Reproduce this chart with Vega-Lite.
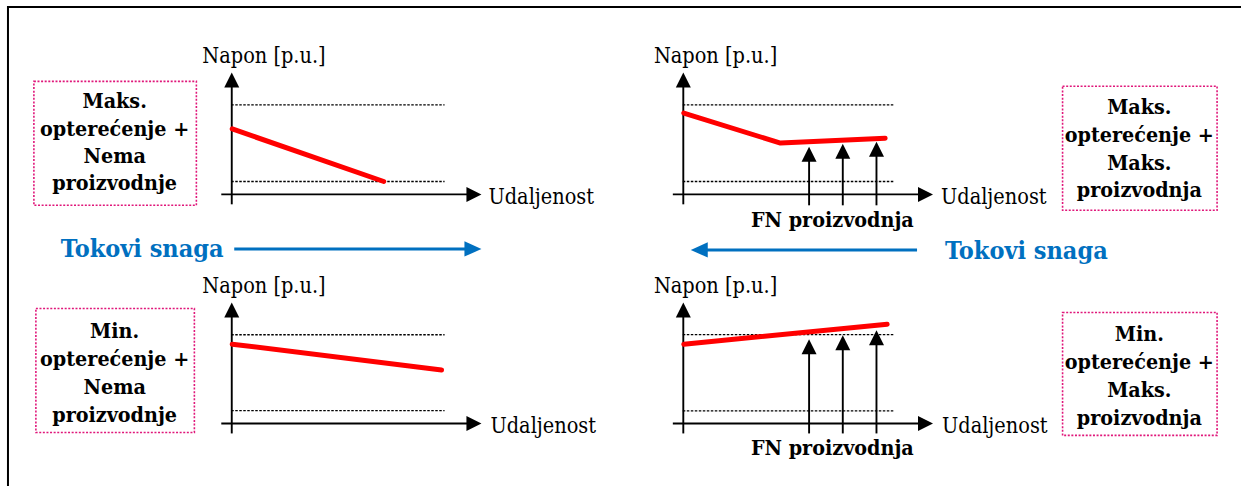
{
  "$schema": "https://vega.github.io/schema/vega-lite/v6.json",
  "width": 1245,
  "height": 490,
  "autosize": {"type": "fit", "contains": "padding"},
  "padding": 0,
  "background": "white",
  "config": {"view": {"stroke": null}},
  "resolve": {"scale": {"shape": "independent"}},
  "datasets": {
    "paths": [
      {"kind": "frame", "id": "frame", "o": 1, "x": 8, "y": 490},
      {"kind": "frame", "id": "frame", "o": 2, "x": 8, "y": 7},
      {"kind": "frame", "id": "frame", "o": 3, "x": 1245, "y": 7},

      {"kind": "axis", "id": "tl-y", "o": 1, "x": 232.5, "y": 206},
      {"kind": "axis", "id": "tl-y", "o": 2, "x": 232.5, "y": 86},
      {"kind": "axis", "id": "tl-x", "o": 1, "x": 222, "y": 196},
      {"kind": "axis", "id": "tl-x", "o": 2, "x": 470, "y": 196},
      {"kind": "axis", "id": "tr-y", "o": 1, "x": 685.5, "y": 206},
      {"kind": "axis", "id": "tr-y", "o": 2, "x": 685.5, "y": 86},
      {"kind": "axis", "id": "tr-x", "o": 1, "x": 675, "y": 196},
      {"kind": "axis", "id": "tr-x", "o": 2, "x": 923, "y": 196},
      {"kind": "axis", "id": "bl-y", "o": 1, "x": 232.5, "y": 437},
      {"kind": "axis", "id": "bl-y", "o": 2, "x": 232.5, "y": 318},
      {"kind": "axis", "id": "bl-x", "o": 1, "x": 222, "y": 427},
      {"kind": "axis", "id": "bl-x", "o": 2, "x": 470, "y": 427},
      {"kind": "axis", "id": "br-y", "o": 1, "x": 685.5, "y": 437},
      {"kind": "axis", "id": "br-y", "o": 2, "x": 685.5, "y": 318},
      {"kind": "axis", "id": "br-x", "o": 1, "x": 675, "y": 427},
      {"kind": "axis", "id": "br-x", "o": 2, "x": 923, "y": 427},

      {"kind": "axis", "id": "tr-f1", "o": 1, "x": 811.7, "y": 207},
      {"kind": "axis", "id": "tr-f1", "o": 2, "x": 811.7, "y": 158},
      {"kind": "axis", "id": "tr-f2", "o": 1, "x": 845.5, "y": 207},
      {"kind": "axis", "id": "tr-f2", "o": 2, "x": 845.5, "y": 155},
      {"kind": "axis", "id": "tr-f3", "o": 1, "x": 879.3, "y": 207},
      {"kind": "axis", "id": "tr-f3", "o": 2, "x": 879.3, "y": 153},
      {"kind": "axis", "id": "br-f1", "o": 1, "x": 811.7, "y": 437},
      {"kind": "axis", "id": "br-f1", "o": 2, "x": 811.7, "y": 352},
      {"kind": "axis", "id": "br-f2", "o": 1, "x": 845.5, "y": 437},
      {"kind": "axis", "id": "br-f2", "o": 2, "x": 845.5, "y": 348},
      {"kind": "axis", "id": "br-f3", "o": 1, "x": 879.3, "y": 437},
      {"kind": "axis", "id": "br-f3", "o": 2, "x": 879.3, "y": 343},

      {"kind": "grid", "id": "tl-u", "o": 1, "x": 232, "y": 105.7},
      {"kind": "grid", "id": "tl-u", "o": 2, "x": 446, "y": 105.7},
      {"kind": "grid", "id": "tl-l", "o": 1, "x": 232, "y": 183},
      {"kind": "grid", "id": "tl-l", "o": 2, "x": 446, "y": 183},
      {"kind": "grid", "id": "tr-u", "o": 1, "x": 685, "y": 105.7},
      {"kind": "grid", "id": "tr-u", "o": 2, "x": 897, "y": 105.7},
      {"kind": "grid", "id": "tr-l", "o": 1, "x": 685, "y": 183},
      {"kind": "grid", "id": "tr-l", "o": 2, "x": 897, "y": 183},
      {"kind": "grid", "id": "bl-u", "o": 1, "x": 232, "y": 337.5},
      {"kind": "grid", "id": "bl-u", "o": 2, "x": 446, "y": 337.5},
      {"kind": "grid", "id": "bl-l", "o": 1, "x": 232, "y": 414},
      {"kind": "grid", "id": "bl-l", "o": 2, "x": 446, "y": 414},
      {"kind": "grid", "id": "br-u", "o": 1, "x": 685, "y": 337.3},
      {"kind": "grid", "id": "br-u", "o": 2, "x": 897, "y": 337.3},
      {"kind": "grid", "id": "br-l", "o": 1, "x": 685, "y": 414.3},
      {"kind": "grid", "id": "br-l", "o": 2, "x": 897, "y": 414.3},

      {"kind": "volt", "id": "tl", "o": 1, "x": 233, "y": 130},
      {"kind": "volt", "id": "tl", "o": 2, "x": 385, "y": 183},
      {"kind": "volt", "id": "tr", "o": 1, "x": 686, "y": 114},
      {"kind": "volt", "id": "tr", "o": 2, "x": 783, "y": 144.3},
      {"kind": "volt", "id": "tr", "o": 3, "x": 888, "y": 139.3},
      {"kind": "volt", "id": "bl", "o": 1, "x": 233, "y": 347},
      {"kind": "volt", "id": "bl", "o": 2, "x": 443, "y": 373},
      {"kind": "volt", "id": "br", "o": 1, "x": 686, "y": 347},
      {"kind": "volt", "id": "br", "o": 2, "x": 890, "y": 327},

      {"kind": "flow", "id": "left", "o": 1, "x": 235, "y": 251},
      {"kind": "flow", "id": "left", "o": 2, "x": 470, "y": 251},
      {"kind": "flow", "id": "right", "o": 1, "x": 920, "y": 252},
      {"kind": "flow", "id": "right", "o": 2, "x": 706, "y": 252}
    ],
    "heads": [
      {"kind": "axis", "dir": "up", "x": 232.5, "y": 73},
      {"kind": "axis", "dir": "right", "x": 483, "y": 196},
      {"kind": "axis", "dir": "up", "x": 685.5, "y": 73},
      {"kind": "axis", "dir": "right", "x": 936, "y": 196},
      {"kind": "axis", "dir": "up", "x": 232.5, "y": 305},
      {"kind": "axis", "dir": "right", "x": 483, "y": 427},
      {"kind": "axis", "dir": "up", "x": 685.5, "y": 305},
      {"kind": "axis", "dir": "right", "x": 936, "y": 427},
      {"kind": "axis", "dir": "up", "x": 811.7, "y": 148},
      {"kind": "axis", "dir": "up", "x": 845.5, "y": 145},
      {"kind": "axis", "dir": "up", "x": 879.3, "y": 143},
      {"kind": "axis", "dir": "up", "x": 811.7, "y": 342},
      {"kind": "axis", "dir": "up", "x": 845.5, "y": 338},
      {"kind": "axis", "dir": "up", "x": 879.3, "y": 333},
      {"kind": "flow", "dir": "east", "x": 483, "y": 251},
      {"kind": "flow", "dir": "west", "x": 693, "y": 252}
    ],
    "boxes": [
      {"id": "tl", "x": 34, "x2": 197, "y": 82, "y2": 207},
      {"id": "tr", "x": 1066, "x2": 1221, "y": 87, "y2": 212},
      {"id": "bl", "x": 36, "x2": 195, "y": 311, "y2": 436},
      {"id": "br", "x": 1066, "x2": 1221, "y": 315, "y2": 439}
    ],
    "labels": [
      {"style": "axis", "text": "Napon [p.u.]", "x": 203, "y": 64},
      {"style": "axis", "text": "Napon [p.u.]", "x": 656, "y": 64},
      {"style": "axis", "text": "Napon [p.u.]", "x": 203, "y": 295},
      {"style": "axis", "text": "Napon [p.u.]", "x": 656, "y": 295},
      {"style": "axis", "text": "Udaljenost", "x": 490, "y": 206},
      {"style": "axis", "text": "Udaljenost", "x": 944, "y": 206},
      {"style": "axis", "text": "Udaljenost", "x": 492, "y": 437},
      {"style": "axis", "text": "Udaljenost", "x": 945, "y": 437},

      {"style": "bold", "text": "Maks.", "x": 115, "y": 109},
      {"style": "bold", "text": "opterećenje +", "x": 115, "y": 137},
      {"style": "bold", "text": "Nema", "x": 115, "y": 164},
      {"style": "bold", "text": "proizvodnje", "x": 115, "y": 192},
      {"style": "bold", "text": "Maks.", "x": 1143, "y": 115},
      {"style": "bold", "text": "opterećenje +", "x": 1143, "y": 143},
      {"style": "bold", "text": "Maks.", "x": 1143, "y": 171},
      {"style": "bold", "text": "proizvodnja", "x": 1143, "y": 199},
      {"style": "bold", "text": "Min.", "x": 115, "y": 341},
      {"style": "bold", "text": "opterećenje +", "x": 115, "y": 369},
      {"style": "bold", "text": "Nema", "x": 115, "y": 397},
      {"style": "bold", "text": "proizvodnje", "x": 115, "y": 425},
      {"style": "bold", "text": "Min.", "x": 1143, "y": 344},
      {"style": "bold", "text": "opterećenje +", "x": 1143, "y": 372},
      {"style": "bold", "text": "Maks.", "x": 1143, "y": 400},
      {"style": "bold", "text": "proizvodnja", "x": 1143, "y": 428},
      {"style": "bold", "text": "FN proizvodnja", "x": 835, "y": 229},
      {"style": "bold", "text": "FN proizvodnja", "x": 835, "y": 459},

      {"style": "flow", "text": "Tokovi snaga", "x": 61, "y": 259},
      {"style": "flow", "text": "Tokovi snaga", "x": 948, "y": 261}
    ]
  },
  "layer": [
    {
      "data": {"name": "boxes"},
      "mark": {"type": "rect", "fill": "white", "fillOpacity": 0, "stroke": "#E0177A", "strokeWidth": 1.6, "strokeDash": [2, 1.6]},
      "encoding": {
        "x": {"field": "x", "type": "quantitative", "scale": {"domain": [0, 1245], "nice": false, "zero": false}, "axis": null},
        "x2": {"field": "x2"},
        "y": {"field": "y", "type": "quantitative", "scale": {"domain": [0, 490], "reverse": true, "nice": false, "zero": false}, "axis": null},
        "y2": {"field": "y2"}
      }
    },
    {
      "data": {"name": "paths"},
      "transform": [{"filter": "datum.kind === 'frame'"}],
      "mark": {"type": "line", "stroke": "black", "strokeWidth": 2},
      "encoding": {
        "x": {"field": "x", "type": "quantitative", "axis": null},
        "y": {"field": "y", "type": "quantitative", "axis": null},
        "detail": {"field": "id"},
        "order": {"field": "o"}
      }
    },
    {
      "data": {"name": "paths"},
      "transform": [{"filter": "datum.kind === 'grid'"}],
      "mark": {"type": "line", "stroke": "black", "strokeWidth": 1.3, "strokeDash": [2.5, 1.5]},
      "encoding": {
        "x": {"field": "x", "type": "quantitative", "axis": null},
        "y": {"field": "y", "type": "quantitative", "axis": null},
        "detail": {"field": "id"},
        "order": {"field": "o"}
      }
    },
    {
      "data": {"name": "paths"},
      "transform": [{"filter": "datum.kind === 'axis'"}],
      "mark": {"type": "line", "stroke": "black", "strokeWidth": 1.9},
      "encoding": {
        "x": {"field": "x", "type": "quantitative", "axis": null},
        "y": {"field": "y", "type": "quantitative", "axis": null},
        "detail": {"field": "id"},
        "order": {"field": "o"}
      }
    },
    {
      "data": {"name": "paths"},
      "transform": [{"filter": "datum.kind === 'volt'"}],
      "mark": {"type": "line", "stroke": "#FF0000", "strokeWidth": 5, "strokeCap": "round", "strokeJoin": "round"},
      "encoding": {
        "x": {"field": "x", "type": "quantitative", "axis": null},
        "y": {"field": "y", "type": "quantitative", "axis": null},
        "detail": {"field": "id"},
        "order": {"field": "o"}
      }
    },
    {
      "data": {"name": "paths"},
      "transform": [{"filter": "datum.kind === 'flow'"}],
      "mark": {"type": "line", "stroke": "#0070C0", "strokeWidth": 3},
      "encoding": {
        "x": {"field": "x", "type": "quantitative", "axis": null},
        "y": {"field": "y", "type": "quantitative", "axis": null},
        "detail": {"field": "id"},
        "order": {"field": "o"}
      }
    },
    {
      "data": {"name": "heads"},
      "transform": [{"filter": "datum.kind === 'axis'"}],
      "mark": {"type": "point", "filled": true, "opacity": 1, "size": 900, "color": "black", "strokeWidth": 0},
      "encoding": {
        "x": {"field": "x", "type": "quantitative", "axis": null},
        "y": {"field": "y", "type": "quantitative", "axis": null},
        "shape": {"field": "dir", "type": "nominal", "legend": null,
          "scale": {"domain": ["up", "right"], "range": ["M0,0L-0.5,1L0.5,1Z", "M0,0L-1,-0.5L-1,0.5Z"]}}
      }
    },
    {
      "data": {"name": "heads"},
      "transform": [{"filter": "datum.kind === 'flow'"}],
      "mark": {"type": "point", "filled": true, "opacity": 1, "size": 1156, "color": "#0070C0", "strokeWidth": 0},
      "encoding": {
        "x": {"field": "x", "type": "quantitative", "axis": null},
        "y": {"field": "y", "type": "quantitative", "axis": null},
        "shape": {"field": "dir", "type": "nominal", "legend": null,
          "scale": {"domain": ["west", "east"], "range": ["M0,0L1,-0.45L1,0.45Z", "M0,0L-1,-0.45L-1,0.45Z"]}}
      }
    },
    {
      "data": {"name": "labels"},
      "transform": [{"filter": "datum.style === 'axis'"}],
      "mark": {"type": "text", "font": "DejaVu Serif Condensed, DejaVu Serif", "fontSize": 21.5, "fontWeight": "normal", "align": "left", "baseline": "alphabetic", "color": "black"},
      "encoding": {
        "x": {"field": "x", "type": "quantitative", "axis": null},
        "y": {"field": "y", "type": "quantitative", "axis": null},
        "text": {"field": "text"}
      }
    },
    {
      "data": {"name": "labels"},
      "transform": [{"filter": "datum.style === 'bold'"}],
      "mark": {"type": "text", "font": "DejaVu Serif Condensed, DejaVu Serif", "fontSize": 21.3, "fontWeight": "bold", "align": "center", "baseline": "alphabetic", "color": "black"},
      "encoding": {
        "x": {"field": "x", "type": "quantitative", "axis": null},
        "y": {"field": "y", "type": "quantitative", "axis": null},
        "text": {"field": "text"}
      }
    },
    {
      "data": {"name": "labels"},
      "transform": [{"filter": "datum.style === 'flow'"}],
      "mark": {"type": "text", "font": "DejaVu Serif Condensed, DejaVu Serif", "fontSize": 25, "fontWeight": "bold", "align": "left", "baseline": "alphabetic", "color": "#0070C0"},
      "encoding": {
        "x": {"field": "x", "type": "quantitative", "axis": null},
        "y": {"field": "y", "type": "quantitative", "axis": null},
        "text": {"field": "text"}
      }
    }
  ]
}
